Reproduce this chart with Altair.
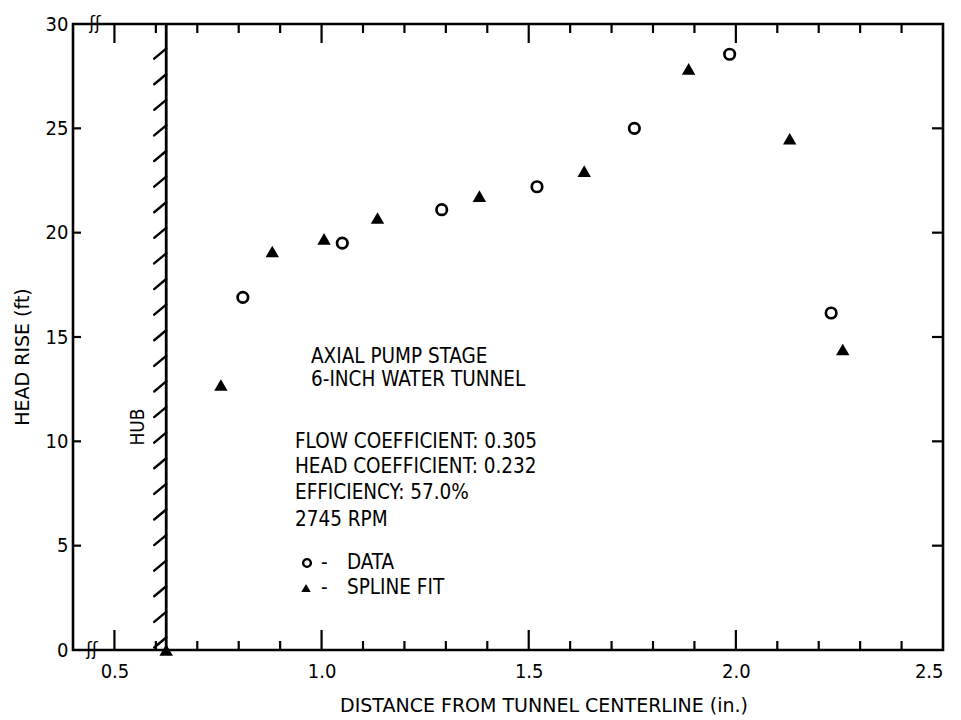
import altair as alt
import pandas as pd

# ---- data ----
circle_x = [0.81, 1.05, 1.29, 1.52, 1.755, 1.985, 2.23]
circle_y = [16.9, 19.5, 21.1, 22.2, 25.0, 28.55, 16.15]
tri_x = [0.625, 0.757, 0.881, 1.006, 1.135, 1.381, 1.634, 1.886, 2.13, 2.258]
tri_y = [0.0, 12.7, 19.1, 19.7, 20.7, 21.75, 22.95, 27.85, 24.5, 14.4]

x_label_vals = [0.5, 1.0, 1.5, 2.0, 2.5]
y_label_vals = [0, 5, 10, 15, 20, 25, 30]
x_major = [0.5, 1.0, 1.5, 2.0]
x_minor = [0.6, 0.7, 0.8, 0.9, 1.1, 1.2, 1.3, 1.4, 1.6, 1.7, 1.8, 1.9, 2.1, 2.2, 2.3, 2.4]
y_ticks = [5, 10, 15, 20, 25]
hub_x = 0.625
hatch_count = 24
hatch_step = 1.227
hatch_start = 0.6

W, H = 870, 626
FONT = "DejaVu Sans Condensed"
TFONT = "DejaVu Sans"

xs = alt.Scale(domain=[0.4, 2.5], nice=False, zero=False)
ys = alt.Scale(domain=[0, 30], nice=False, zero=False)
x_axis = alt.Axis(values=x_label_vals, format=".1f", title="", labelPadding=11, labelFontSize=20,
                  domain=False, ticks=False, grid=False, labelFont=FONT, labelColor="black")
y_axis = alt.Axis(values=y_label_vals, format="d", title="", labelPadding=5, labelFontSize=20,
                  domain=False, ticks=False, grid=False, labelFont=FONT, labelColor="black")

circ_df = pd.DataFrame({"x": circle_x, "y": circle_y})
tri_df = pd.DataFrame({"x": tri_x, "y": tri_y})
major_df = pd.DataFrame({"x": x_major})
minor_df = pd.DataFrame({"x": x_minor})
yt_df = pd.DataFrame({"y": y_ticks})
hatch_y = [hatch_start + hatch_step * k for k in range(hatch_count)]
hatch_df = pd.DataFrame({"y2": hatch_y, "y": [v - 0.48 for v in hatch_y],
                         "x": [hub_x - 0.029] * hatch_count, "x2": [hub_x] * hatch_count})
hub_df = pd.DataFrame({"x": [hub_x], "y": [0], "y2": [30]})


def xq():
    return alt.X("x:Q", scale=xs, axis=x_axis)


def yq():
    return alt.Y("y:Q", scale=ys, axis=y_axis)


top_major = alt.Chart(major_df).mark_rule(color="black", strokeWidth=2.2).encode(
    x=xq(), y=alt.value(0), y2=alt.value(19))
top_minor = alt.Chart(minor_df).mark_rule(color="black", strokeWidth=2.2).encode(
    x=xq(), y=alt.value(0), y2=alt.value(9))
bot_major = alt.Chart(major_df).mark_rule(color="black", strokeWidth=2.2).encode(
    x=xq(), y=alt.value(H), y2=alt.value(H - 20))
bot_minor = alt.Chart(minor_df).mark_rule(color="black", strokeWidth=2.2).encode(
    x=xq(), y=alt.value(H), y2=alt.value(H - 9))
left_ticks = alt.Chart(yt_df).mark_rule(color="black", strokeWidth=2.2).encode(
    y=yq(), x=alt.value(0), x2=alt.value(8))
right_ticks = alt.Chart(yt_df).mark_rule(color="black", strokeWidth=2.2).encode(
    y=yq(), x=alt.value(W), x2=alt.value(W - 11))

hub_line = alt.Chart(hub_df).mark_rule(color="black", strokeWidth=2.8).encode(
    x=xq(), y=yq(), y2="y2:Q")
hatch = alt.Chart(hatch_df).mark_rule(color="black", strokeWidth=2.4, strokeCap="round").encode(
    x=xq(), x2="x2:Q", y=yq(), y2="y2:Q")

circles = alt.Chart(circ_df).mark_point(shape="circle", filled=False, color="black",
                                        size=110, strokeWidth=2.7, opacity=1).encode(x=xq(), y=yq())
tris = alt.Chart(tri_df).mark_point(shape="triangle-up", filled=True, color="black",
                                    size=180, opacity=1).encode(x=xq(), y=yq())


def txt(s, x, y, size=20.5, font=FONT, angle=0, align="left"):
    return alt.Chart(pd.DataFrame({"t": [s]})).mark_text(
        font=font, fontSize=size, align=align, baseline="middle", color="black", angle=angle
    ).encode(text="t:N", x=alt.value(x), y=alt.value(y))


texts = [
    txt("AXIAL PUMP STAGE", 238, 333),
    txt("6-INCH WATER TUNNEL", 238, 356),
    txt("FLOW COEFFICIENT: 0.305", 222, 418),
    txt("HEAD COEFFICIENT: 0.232", 222, 443),
    txt("EFFICIENCY: 57.0%", 222, 469),
    txt("2745 RPM", 222, 496),
    txt("-", 248, 539),
    txt("DATA", 274, 539),
    txt("-", 248, 564),
    txt("SPLINE FIT", 274, 564),
    txt("HUB", 65, 403, size=19, angle=270, align="center"),
    txt("HEAD RISE (ft)", -50, 333, size=19, font=TFONT, angle=270, align="center"),
    txt("DISTANCE FROM TUNNEL CENTERLINE (in.)", 471, 682, size=19, font=TFONT, align="center"),
    txt("ʃʃ", 22, 0, size=17, font="DejaVu Sans", align="center"),
    txt("ʃʃ", 19, H, size=17, font="DejaVu Sans", align="center"),
]

leg_c = alt.Chart(pd.DataFrame({"k": ["DATA"]})).mark_point(
    shape="circle", filled=False, color="black", size=60, strokeWidth=2.4, opacity=1
).encode(x=alt.value(234), y=alt.value(539))
leg_t = alt.Chart(pd.DataFrame({"k": ["SPLINE FIT"]})).mark_point(
    shape="triangle-up", filled=True, color="black", size=90, opacity=1
).encode(x=alt.value(233), y=alt.value(564))

chart = alt.layer(
    hub_line, hatch, top_major, top_minor, bot_major, bot_minor,
    left_ticks, right_ticks, circles, tris, leg_c, leg_t, *texts
).properties(
    width=W, height=H,
    autosize=alt.AutoSizeParams(type="none"),
    padding={"left": 65, "top": 16, "right": 10, "bottom": 70},
    background="white",
).configure_view(
    stroke="black", strokeWidth=2.6
)

chart.save("out.html", embed_options={"renderer": "svg", "actions": False})
